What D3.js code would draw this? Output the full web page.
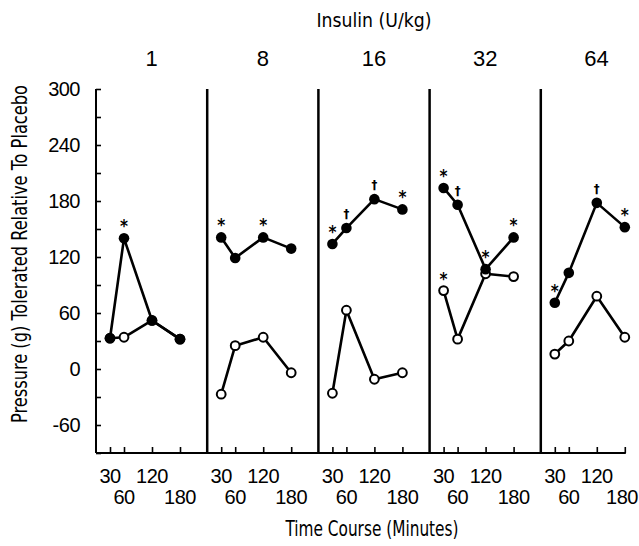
<!DOCTYPE html>
<html>
<head>
<meta charset="utf-8">
<script src="https://cdn.jsdelivr.net/npm/d3@7/dist/d3.min.js"></script>
<style>
  html, body { margin: 0; padding: 0; background: #fff; }
  svg { display: block; }
  text { font-family: "DejaVu Sans Condensed", "Liberation Sans Narrow", "Liberation Sans", sans-serif; fill: #000; }
  text.num { font-family: "Liberation Sans", Arial, sans-serif; }
</style>
</head>
<body>
<svg id="chart" width="639" height="546"></svg>
<script>
// ---- data ----
const doses = ["1", "8", "16", "32", "64"];
const times = [30, 60, 120, 180];
const yTicks = [-60, 0, 60, 120, 180, 240, 300];
const yMinorTicks = [-90, -30, 30, 90, 150, 210, 270];
// insulin (filled circles), values per dose at times 30, 60, 120, 180
const insulinValues = [
  [33, 140, 52, 32],
  [141, 119, 141, 129],
  [134, 151, 182, 171],
  [194, 176, 107, 141],
  [71, 103, 178, 152]
];
// comparison (open circles)
const controlValues = [
  [33, 34, 52, 32],
  [-27, 25, 34, -4],
  [-26, 63, -11, -4],
  [84, 32, 102, 99],
  [16, 30, 78, 34]
];
// significance marks
const insulinMarks = [
  ["", "*", "", ""],
  ["*", "", "*", ""],
  ["*", "\u2020", "\u2020", "*"],
  ["*", "\u2020", "*", "*"],
  ["*", "", "\u2020", "*"]
];
const controlMarks = [
  ["", "", "", ""],
  ["", "", "", ""],
  ["", "", "", ""],
  ["*", "", "", ""],
  ["", "", "", ""]
];
const topTitle = "Insulin (U/kg)";
const xTitle = "Time Course (Minutes)";
const yTitle = "Pressure (g)  Tolerated Relative To Placebo";

// ---- layout ----
const W = 639;
const svg = d3.select("#chart");
const plotTop = 89, plotBottom = 453, plotLeft = 96, plotRight = 652;

const panel = d3.scaleBand().domain(doses).range([plotLeft, plotRight]).padding(0);
const xIn = d3.scaleLinear().domain([0, 180]).range([0, 84]);
const y = d3.scaleLinear().domain([-90, 300]).range([plotBottom, plotTop]);
const xOf = (i, t) => panel(doses[i]) + xIn(t);

// left axis ticks
[yTicks, yMinorTicks].forEach(tv => {
  const g = svg.append("g").attr("transform", `translate(${plotLeft},0)`)
    .call(d3.axisRight(y).tickValues(tv).tickSize(5).tickFormat(""));
  g.select(".domain").remove();
  g.selectAll(".tick line").attr("stroke", "#000").attr("stroke-width", 1.6);
});

svg.append("line").attr("x1", plotLeft).attr("x2", plotLeft).attr("y1", plotTop).attr("y2", plotBottom)
  .attr("stroke", "#000").attr("stroke-width", 2);

// y tick labels
svg.append("g").selectAll("text").data(yTicks).join("text")
  .attr("class", "num")
  .attr("x", 80).attr("y", d => y(d) + 7)
  .attr("text-anchor", "end").attr("font-size", 20).attr("letter-spacing", -0.5)
  .text(d => d);

// separators
svg.append("g").selectAll("line").data(doses.slice(1)).join("line")
  .attr("x1", d => panel(d)).attr("x2", d => panel(d))
  .attr("y1", plotTop).attr("y2", plotBottom)
  .attr("stroke", "#000").attr("stroke-width", 2.5);

// bottom axis line
svg.append("line").attr("x1", plotLeft).attr("x2", xOf(4, 180) + 1)
  .attr("y1", plotBottom).attr("y2", plotBottom).attr("stroke", "#000").attr("stroke-width", 2.2);

// per-panel x axes
doses.forEach((d, i) => {
  const xs = d3.scaleLinear().domain([0, 180]).range([panel(d), panel(d) + 84]);
  const g = svg.append("g").attr("transform", `translate(0,${plotBottom})`)
    .call(d3.axisTop(xs).tickValues(times).tickSize(6).tickFormat(""));
  g.select(".domain").remove();
  g.selectAll(".tick line").attr("stroke", "#000").attr("stroke-width", 1.6);
  svg.append("g").selectAll("text").data(times).join("text")
    .attr("class", "num")
    .attr("x", t => Math.min(xs(t), W - 17))
    .attr("y", (t, j) => j % 2 === 0 ? 483 : 504)
    .attr("text-anchor", "middle").attr("font-size", 20).attr("letter-spacing", -0.5)
    .text(t => t);
  // dose label
  svg.append("text").attr("class", "num").attr("x", panel(d) + panel.bandwidth() / 2).attr("y", 66)
    .attr("text-anchor", "middle").attr("font-size", 22).text(d);
});

// series
const line = d3.line().x(p => p.x).y(p => p.y);
function drawSeries(values, marks, filled) {
  values.forEach((vals, i) => {
    const pts = vals.map((v, j) => ({ x: xOf(i, times[j]), y: y(v), m: marks[i][j] }));
    svg.append("path").attr("d", line(pts)).attr("fill", "none")
      .attr("stroke", "#000").attr("stroke-width", 2.6).attr("stroke-linejoin", "round");
    svg.append("g").selectAll("circle").data(pts).join("circle")
      .attr("cx", p => p.x).attr("cy", p => p.y)
      .attr("r", filled ? 5.3 : 4.4)
      .attr("fill", filled ? "#000" : "#fff")
      .attr("stroke", "#000").attr("stroke-width", filled ? 0 : 2);
    svg.append("g").selectAll("text").data(pts.filter(p => p.m)).join("text")
      .attr("x", p => p.x).attr("y", p => p.m === "*" ? p.y - 6 : p.y - 10)
      .attr("text-anchor", "middle")
      .attr("font-size", p => p.m === "*" ? 17 : 13)
      .attr("font-weight", "bold")
      .text(p => p.m);
  });
}
drawSeries(controlValues, controlMarks, false);
drawSeries(insulinValues, insulinMarks, true);

// titles
const cx = (plotLeft + plotRight) / 2;
svg.append("text").attr("x", cx).attr("y", 27).attr("text-anchor", "middle")
  .attr("font-size", 20).attr("textLength", 115).attr("lengthAdjust", "spacingAndGlyphs")
  .text(topTitle);
svg.append("text").attr("x", cx - 2).attr("y", 536).attr("text-anchor", "middle")
  .attr("font-size", 21).attr("textLength", 173).attr("lengthAdjust", "spacingAndGlyphs")
  .text(xTitle);
svg.append("text").attr("transform", "translate(27,254) rotate(-90)")
  .attr("text-anchor", "middle").attr("font-size", 21)
  .attr("textLength", 338).attr("lengthAdjust", "spacingAndGlyphs")
  .text(yTitle);
</script>
</body>
</html>
